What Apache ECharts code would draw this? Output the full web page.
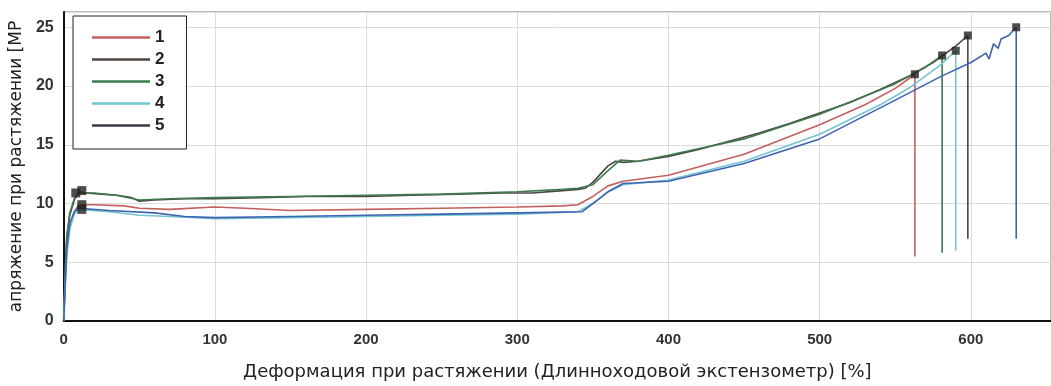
<!DOCTYPE html>
<html>
<head>
<meta charset="utf-8">
<script src="https://cdn.jsdelivr.net/npm/echarts@6/dist/echarts.min.js"></script>
<style>
html,body{margin:0;padding:0;background:#fff;}
#c{width:1051px;height:386px;}
</style>
</head>
<body>
<div id="c"></div>
<script>
// Series names and colours
const seriesNames = ['1', '2', '3', '4', '5'];
const seriesColors = ['#c2605e', '#4f4541', '#3d7a4e', '#74c4d4', '#3d64b0'];
const legendColors = ['#c2605e', '#4f4541', '#3d7a4e', '#74c4d4', '#3a3a44'];

// Curve 1 (red)
const s1x = [0, 1, 2, 4, 7, 10, 20, 40, 50, 70, 100, 120, 150, 200, 250, 300, 330, 340, 350, 360, 370, 400, 450, 500, 530, 550, 563, 563];
const s1y = [0, 3.5, 6, 8, 9.3, 9.9, 9.9, 9.8, 9.6, 9.5, 9.7, 9.6, 9.4, 9.5, 9.6, 9.7, 9.8, 9.9, 10.6, 11.5, 11.9, 12.4, 14.2, 16.7, 18.4, 19.8, 21.0, 5.5];
// Curve 2 (dark)
const s2x = [0, 1, 2, 4, 7, 10, 15, 25, 35, 45, 50, 60, 80, 100, 130, 160, 200, 230, 260, 290, 310, 330, 340, 345, 350, 355, 360, 365, 370, 380, 400, 420, 440, 460, 480, 500, 520, 540, 560, 575, 590, 598, 598];
const s2y = [0, 4, 7, 9, 10.3, 11.0, 10.9, 10.8, 10.7, 10.5, 10.2, 10.3, 10.4, 10.4, 10.5, 10.6, 10.6, 10.7, 10.8, 10.9, 10.9, 11.1, 11.2, 11.3, 11.8, 12.5, 13.2, 13.6, 13.5, 13.6, 14.0, 14.6, 15.3, 16.0, 16.8, 17.7, 18.6, 19.7, 20.9, 22.0, 23.4, 24.3, 7.0];
// Curve 3 (green)
const s3x = [0, 1, 2, 4, 7, 10, 20, 35, 50, 70, 100, 150, 200, 250, 300, 330, 340, 350, 360, 368, 380, 400, 450, 500, 550, 570, 581, 581];
const s3y = [0, 4.2, 7.2, 9.2, 10.4, 10.9, 10.9, 10.7, 10.3, 10.4, 10.5, 10.6, 10.7, 10.8, 11.0, 11.2, 11.3, 11.6, 12.8, 13.7, 13.6, 14.1, 15.5, 17.6, 20.2, 21.6, 22.6, 5.8];
// Curve 4 (cyan)
const s4x = [0, 1, 2, 4, 7, 10, 30, 50, 70, 100, 150, 200, 250, 300, 340, 350, 360, 370, 400, 450, 500, 540, 560, 580, 590, 590];
const s4y = [0, 3, 5.5, 7.8, 9.1, 9.5, 9.3, 9.0, 8.9, 8.7, 8.8, 8.9, 9.0, 9.1, 9.3, 10.0, 11.0, 11.6, 12.0, 13.6, 15.9, 18.4, 19.9, 21.8, 23.0, 6.0];
// Curve 5 (blue)
const s5x = [0, 1, 2, 4, 7, 10, 30, 60, 80, 100, 150, 200, 250, 300, 343, 350, 360, 370, 400, 450, 500, 550, 580, 600, 610, 612, 615, 618, 620, 625, 630, 630];
const s5y = [0, 3, 6, 8.3, 9.3, 9.6, 9.4, 9.2, 8.9, 8.8, 8.9, 9.0, 9.1, 9.2, 9.3, 10.0, 11.0, 11.7, 11.9, 13.4, 15.5, 18.8, 20.8, 22.0, 22.8, 22.3, 23.6, 23.2, 24.0, 24.3, 25.0, 7.0];

// Yield point markers
const yieldX = [12, 8, 12, 12];
const yieldY = [11.1, 10.9, 9.9, 9.5];

// Axis tick labels
const xTicks = [0, 100, 200, 300, 400, 500, 600];
const yTicks = [0, 5, 10, 15, 20, 25];

const curvesX = [s1x, s2x, s3x, s4x, s5x];
const curvesY = [s1y, s2y, s3y, s4y, s5y];

const zip = (xs, ys) => xs.map((x, i) => [x, ys[i]]);

// Break markers: last point before the drop of each curve
const breakPts = curvesX.map((xs, k) => [xs[xs.length - 2], curvesY[k][curvesY[k].length - 2]]);

const FONT = "'Liberation Sans', Arial, sans-serif";
const WIDE = "'DejaVu Sans', 'Liberation Sans', sans-serif";

const lineSeries = seriesNames.map((n, k) => ({
  name: n,
  type: 'line',
  data: zip(curvesX[k], curvesY[k]),
  symbol: 'none',
  showSymbol: false,
  lineStyle: { width: 1.6, color: seriesColors[k] },
  itemStyle: { color: legendColors[k] },
  z: 3
}));

const chart = echarts.init(document.getElementById('c'), null, { renderer: 'canvas' });
chart.setOption({
  animation: false,
  backgroundColor: '#fff',
  grid: { left: 63, right: 0, top: 12, bottom: 64, show: true, borderColor: '#777', borderWidth: 1 },
  legend: {
    data: seriesNames,
    icon: 'rect',
    orient: 'vertical',
    left: 73,
    top: 16,
    padding: [13, 22, 15, 19],
    itemWidth: 58,
    itemHeight: 2.5,
    itemGap: 5,
    backgroundColor: '#fff',
    borderColor: '#222',
    borderWidth: 1,
    textStyle: { fontFamily: FONT, fontSize: 17, fontWeight: 'bold', color: '#222' }
  },
  xAxis: {
    type: 'value',
    min: 0,
    max: 653,
    interval: 100,
    name: 'Деформация при растяжении (Длинноходовой экстензометр) [%]',
    nameLocation: 'middle',
    nameGap: 42,
    nameTextStyle: { fontFamily: WIDE, fontSize: 18, color: '#222' },
    axisLine: { show: true, lineStyle: { color: '#111', width: 2 } },
    axisTick: { show: false },
    axisLabel: {
      fontFamily: FONT, fontSize: 15, fontWeight: 'bold', color: '#333', margin: 11,
      showMaxLabel: false,
      formatter: v => (xTicks.indexOf(v) >= 0 ? String(v) : '')
    },
    splitLine: { show: true, lineStyle: { color: '#dcdcdc', width: 1 } }
  },
  yAxis: {
    type: 'value',
    min: 0,
    max: 26.3,
    interval: 5,
    name: 'апряжение при растяжении [МР',
    nameLocation: 'middle',
    nameGap: 36,
    nameTextStyle: { fontFamily: WIDE, fontSize: 17, color: '#222' },
    axisLine: { show: true, lineStyle: { color: '#111', width: 2 } },
    axisTick: { show: false },
    axisLabel: {
      fontFamily: FONT, fontSize: 16, fontWeight: 'bold', color: '#333', margin: 10,
      showMaxLabel: false,
      formatter: v => (yTicks.indexOf(v) >= 0 ? String(v) : '')
    },
    splitLine: { show: true, lineStyle: { color: '#dcdcdc', width: 1 } }
  },
  series: lineSeries.concat([
    {
      name: 'yield',
      type: 'scatter',
      data: zip(yieldX, yieldY),
      symbol: 'rect',
      symbolSize: 9,
      itemStyle: { color: '#222' },
      z: 5
    },
    {
      name: 'break',
      type: 'scatter',
      data: breakPts,
      symbol: 'rect',
      symbolSize: 8,
      itemStyle: { color: '#222' },
      z: 5
    }
  ])
});
</script>
</body>
</html>
